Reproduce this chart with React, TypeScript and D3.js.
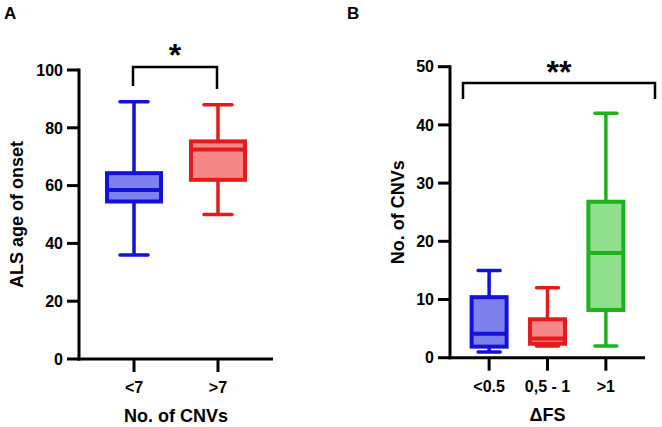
import React from "react";
import * as d3 from "d3";

// Panel A data
const catsA = ["<7", ">7"];
const minA = [36, 50];
const q1A = [54.5, 62];
const medA = [58.5, 72.5];
const q3A = [64.3, 75.3];
const maxA = [89, 88];
const ticksA = [0, 20, 40, 60, 80, 100];

// Panel B data
const catsB = ["<0.5", "0,5 - 1", ">1"];
const minB = [1, 2, 2];
const q1B = [1.9, 2.4, 8.2];
const medB = [4.1, 3.3, 18];
const q3B = [10.4, 6.6, 26.8];
const maxB = [15, 12, 42];
const ticksB = [0, 10, 20, 30, 40, 50];

const strokeA = ["#1212d8", "#e41b1b"];
const fillA = ["#7e80ee", "#f68786"];
const strokeB = ["#1212d8", "#e41b1b", "#1fb21f"];
const fillB = ["#7e80ee", "#f68786", "#8fdf8f"];

const FONT = "'Liberation Sans', Arial, sans-serif";

type PanelProps = {
  cats: string[];
  mins: number[];
  q1: number[];
  med: number[];
  q3: number[];
  maxs: number[];
  ticks: number[];
  yMax: number;
  x0: number;
  x1: number;
  yTop: number;
  yBottom: number;
  pad: number;
  boxW: number;
  capW: number;
  strokes: string[];
  fills: string[];
  yTitle: string;
  xTitle: string;
  yTitleX: number;
  label: string;
  labelX: number;
  bracket: { a: number; b: number; y: number; leftLeg: number; rightLeg: number; text: string; textY: number };
};

function Panel(p: PanelProps) {
  const y = d3.scaleLinear().domain([0, p.yMax]).range([p.yBottom, p.yTop]);
  const x = d3.scalePoint<string>().domain(p.cats).range([p.x0, p.x1]).padding(p.pad);
  const bx0 = p.bracket.a;
  const bx1 = p.bracket.b;
  const midX = (bx0 + bx1) / 2;
  return (
    <g>
      <text x={p.labelX} y={19} fontFamily={FONT} fontWeight="bold" fontSize={17}>
        {p.label}
      </text>
      {/* boxes */}
      {p.cats.map((c, i) => {
        const cx = x(c)!;
        return (
          <g key={c}>
            <line x1={cx} x2={cx} y1={y(p.maxs[i])} y2={y(p.q3[i])} stroke={p.strokes[i]} strokeWidth={3.5} />
            <line x1={cx} x2={cx} y1={y(p.q1[i])} y2={y(p.mins[i])} stroke={p.strokes[i]} strokeWidth={3.5} />
            <line x1={cx - p.capW / 2} x2={cx + p.capW / 2} y1={y(p.maxs[i])} y2={y(p.maxs[i])} stroke={p.strokes[i]} strokeWidth={3.5} strokeLinecap="round" />
            <line x1={cx - p.capW / 2} x2={cx + p.capW / 2} y1={y(p.mins[i])} y2={y(p.mins[i])} stroke={p.strokes[i]} strokeWidth={3.5} strokeLinecap="round" />
            <rect x={cx - p.boxW / 2} y={y(p.q3[i])} width={p.boxW} height={y(p.q1[i]) - y(p.q3[i])} fill={p.fills[i]} stroke={p.strokes[i]} strokeWidth={4} />
            <line x1={cx - p.boxW / 2} x2={cx + p.boxW / 2} y1={y(p.med[i])} y2={y(p.med[i])} stroke={p.strokes[i]} strokeWidth={4} />
          </g>
        );
      })}
      {/* y axis */}
      <line x1={p.x0} x2={p.x0} y1={p.yTop - 1.5} y2={p.yBottom + 1.5} stroke="#000" strokeWidth={3} />
      {p.ticks.map((t) => (
        <g key={t}>
          <line x1={p.x0 - 12} x2={p.x0} y1={y(t)} y2={y(t)} stroke="#000" strokeWidth={3} />
          <text x={p.x0 - 16} y={y(t)} dy="0.36em" textAnchor="end" fontFamily={FONT} fontWeight="bold" fontSize={16}>
            {t}
          </text>
        </g>
      ))}
      {/* x axis */}
      <line x1={p.x0 - 1.5} x2={p.x1} y1={p.yBottom} y2={p.yBottom} stroke="#000" strokeWidth={3} />
      {p.cats.map((c) => (
        <g key={c}>
          <line x1={x(c)!} x2={x(c)!} y1={p.yBottom} y2={p.yBottom + 13} stroke="#000" strokeWidth={3} />
          <text x={x(c)!} y={p.yBottom + 34} textAnchor="middle" fontFamily={FONT} fontWeight="bold" fontSize={16}>
            {c}
          </text>
        </g>
      ))}
      <text x={(p.x0 + p.x1) / 2} y={p.yBottom + 63} textAnchor="middle" fontFamily={FONT} fontWeight="bold" fontSize={18}>
        {p.xTitle}
      </text>
      <text
        transform={`translate(${p.yTitleX},${(p.yTop + p.yBottom) / 2}) rotate(-90)`}
        textAnchor="middle"
        fontFamily={FONT}
        fontWeight="bold"
        fontSize={18}
      >
        {p.yTitle}
      </text>
      {/* significance bracket */}
      <path
        d={`M${bx0},${p.bracket.leftLeg} V${p.bracket.y} H${bx1} V${p.bracket.rightLeg}`}
        fill="none"
        stroke="#000"
        strokeWidth={2.5}
      />
      <text x={midX} y={p.bracket.textY} textAnchor="middle" fontFamily={FONT} fontWeight="bold" fontSize={32}>
        {p.bracket.text}
      </text>
    </g>
  );
}

export default function App() {
  return (
    <svg width={662} height={427} style={{ position: "absolute", left: 0, top: 0, background: "#fff" }}>
      <rect width={662} height={427} fill="#fff" />
      <Panel
        cats={catsA}
        mins={minA}
        q1={q1A}
        med={medA}
        q3={q3A}
        maxs={maxA}
        ticks={ticksA}
        yMax={100}
        x0={79}
        x1={273}
        yTop={70}
        yBottom={359}
        pad={0.655}
        boxW={54}
        capW={28}
        strokes={strokeA}
        fills={fillA}
        yTitle="ALS age of onset"
        xTitle="No. of CNVs"
        yTitleX={23}
        label="A"
        labelX={4}
        bracket={{ a: 133, b: 217, y: 67, leftLeg: 86, rightLeg: 89, text: "*", textY: 66 }}
      />
      <Panel
        cats={catsB}
        mins={minB}
        q1={q1B}
        med={medB}
        q3={q3B}
        maxs={maxB}
        ticks={ticksB}
        yMax={50}
        x0={450}
        x1={645}
        yTop={66.7}
        yBottom={357.7}
        pad={0.67}
        boxW={35}
        capW={22}
        strokes={strokeB}
        fills={fillB}
        yTitle="No. of CNVs"
        xTitle="ΔFS"
        yTitleX={404}
        label="B"
        labelX={347}
        bracket={{ a: 463, b: 655, y: 83, leftLeg: 99, rightLeg: 99, text: "**", textY: 83 }}
      />
    </svg>
  );
}
